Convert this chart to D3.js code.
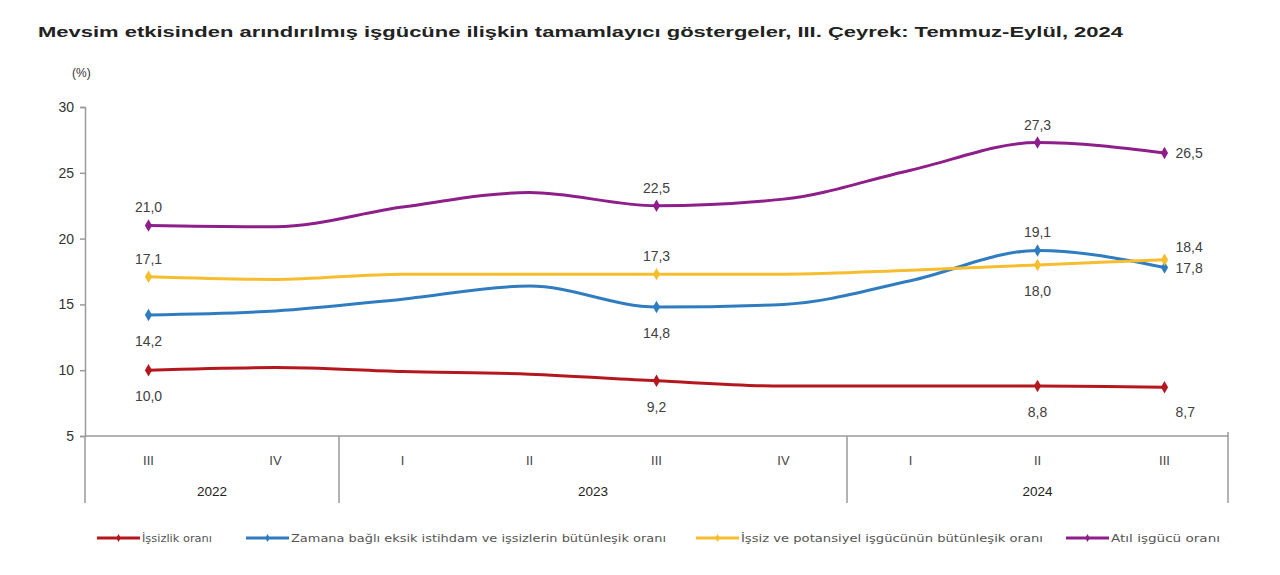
<!DOCTYPE html>
<html><head><meta charset="utf-8">
<script src="https://cdn.jsdelivr.net/npm/d3@7"></script>
<style>
body{margin:0;background:#fff;}
svg{display:block;font-family:"Liberation Sans",Arial,sans-serif;}
</style></head>
<body>
<svg id="chart" width="1280" height="575"></svg>
<script>
const quarters = ["III","IV","I","II","III","IV","I","II","III"];
const years = [{label:"2022", from:0, to:2},{label:"2023", from:2, to:6},{label:"2024", from:6, to:9}];
const yTicks = [5,10,15,20,25,30];
const unemployment = [10.0,10.2,9.9,9.7,9.2,8.8,8.8,8.8,8.7];
const underemployment = [14.2,14.5,15.4,16.4,14.8,15.0,16.8,19.1,17.8];
const potential = [17.1,16.9,17.3,17.3,17.3,17.3,17.6,18.0,18.4];
const idle = [21.0,20.9,22.4,23.5,22.5,23.0,25.2,27.3,26.5];
const labelIdx = [0,4,7,8];

const series = [
  {name:"İşsizlik oranı", values:unemployment, color:"#B5171F", pos:["b","b","b","rb"]},
  {name:"Zamana bağlı eksik istihdam ve işsizlerin bütünleşik oranı", values:underemployment, color:"#2F7DC0", pos:["b","b","t","r"]},
  {name:"İşsiz ve potansiyel işgücünün bütünleşik oranı", values:potential, color:"#F6BE2E", pos:["t","t","b","rt"]},
  {name:"Atıl işgücü oranı", values:idle, color:"#8E1F8A", pos:["t","t","t","r"]}
];

const svg = d3.select("#chart");
const x = d3.scaleBand().domain(d3.range(quarters.length)).range([85,1228]);
const cx = i => x(i) + x.bandwidth()/2;
const y = d3.scaleLinear().domain([5,30]).range([436,107]);

// title
svg.append("text").attr("x",38).attr("y",37).attr("font-size",15.5).attr("font-weight","bold")
  .attr("fill","#222").attr("textLength",1085).attr("lengthAdjust","spacingAndGlyphs")
  .text("Mevsim etkisinden arındırılmış işgücüne ilişkin tamamlayıcı göstergeler, III. Çeyrek: Temmuz-Eylül, 2024");
svg.append("text").attr("x",72).attr("y",77).attr("font-size",12).attr("fill","#333").text("(%)");

// y axis
const yAxis = svg.append("g").attr("transform","translate(85,0)")
  .call(d3.axisLeft(y).tickValues(yTicks).tickSize(5).tickPadding(6));
yAxis.select(".domain").attr("stroke","#9a9a9a").attr("stroke-width",1.5);
yAxis.selectAll(".tick line").attr("stroke","#9a9a9a").attr("stroke-width",1.5);
yAxis.selectAll(".tick text").attr("font-size",14).attr("fill","#333");

// x axis
const gx = svg.append("g");
gx.append("line").attr("x1",85).attr("x2",1228).attr("y1",y(5)).attr("y2",y(5))
  .attr("stroke","#9a9a9a").attr("stroke-width",1.5);
const bounds = [0,2,6,9];
gx.selectAll("line.sep").data(bounds).join("line").attr("class","sep")
  .attr("x1",d=>d===9?1228:x(d)).attr("x2",d=>d===9?1228:x(d))
  .attr("y1",d=>d===9?y(5)-4:y(5)).attr("y2",503)
  .attr("stroke","#9a9a9a").attr("stroke-width",1.5);
gx.selectAll("text.q").data(quarters).join("text").attr("class","q")
  .attr("x",(d,i)=>cx(i)).attr("y",465).attr("text-anchor","middle")
  .attr("font-size",13).attr("fill","#444").text(d=>d);
gx.selectAll("text.yr").data(years).join("text").attr("class","yr")
  .attr("x",d=>(x(d.from)+(d.to===9?1228:x(d.to)))/2).attr("y",496).attr("text-anchor","middle")
  .attr("font-size",13.5).attr("fill","#222").text(d=>d.label);

// lines
const line = d3.line().x((d,i)=>cx(i)).y(d=>y(d)).curve(d3.curveMonotoneX);
const diamond = d3.symbol().type(d3.symbolDiamond).size(45);
series.forEach(s=>{
  svg.append("path").attr("d",line(s.values)).attr("fill","none")
    .attr("stroke",s.color).attr("stroke-width",3).attr("stroke-linejoin","round");
  labelIdx.forEach((i,k)=>{
    const px = cx(i), py = y(s.values[i]);
    svg.append("path").attr("d",diamond).attr("transform",`translate(${px},${py})`).attr("fill",s.color);
    const p = s.pos[k];
    let tx=px, ty=py, anchor="middle";
    if(p==="t"){ty=py-13;}
    else if(p==="b"){ty=py+31;}
    else if(p==="r"){tx=px+11;ty=py+5;anchor="start";}
    else if(p==="rt"){tx=px+11;ty=py-8;anchor="start";}
    else if(p==="rb"){tx=px+11;ty=py+30;anchor="start";}
    svg.append("text").attr("x",tx).attr("y",ty).attr("text-anchor",anchor)
      .attr("font-size",14).attr("fill","#404040")
      .text(d3.format(".1f")(s.values[i]).replace(".",","));
  });
});

// legend
const legendX = [97,246,696,1066];
const legendLen = [70,375,302,109];
series.forEach((s,i)=>{
  const g = svg.append("g").attr("transform",`translate(${legendX[i]},538)`);
  g.append("line").attr("x1",0).attr("x2",43).attr("stroke",s.color).attr("stroke-width",3);
  g.append("path").attr("d",d3.symbol().type(d3.symbolDiamond).size(18)).attr("transform","translate(21.5,0)").attr("fill",s.color);
  g.append("text").attr("x",45).attr("y",4).attr("font-family","'DejaVu Sans',sans-serif").attr("font-size",11).attr("fill","#555")
    .attr("textLength",legendLen[i]).attr("lengthAdjust","spacingAndGlyphs").text(s.name);
});
</script>
</body></html>
